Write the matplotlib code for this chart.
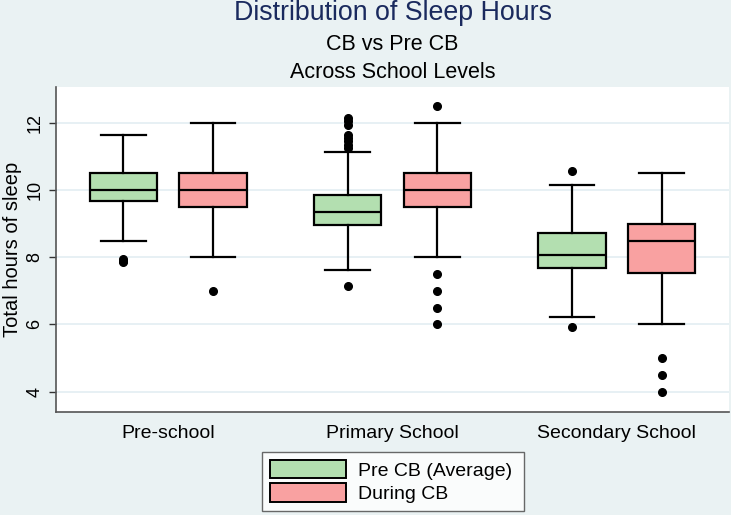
import matplotlib
matplotlib.use("Agg")
import matplotlib.pyplot as plt
from matplotlib.patches import Patch

plt.rcParams['font.family'] = ['Liberation Sans', 'DejaVu Sans']

categories = ["Pre-school", "Primary School", "Secondary School"]
series_names = ["Pre CB (Average)", "During CB"]

# five-number summaries: [lower whisker, Q1, median, Q3, upper whisker]
pre_stats = [
    [8.48, 9.66, 10.0, 10.5, 11.64],
    [7.63, 8.95, 9.34, 9.85, 11.13],
    [6.22, 7.68, 8.07, 8.72, 10.15],
]
during_stats = [
    [8.0, 9.5, 10.0, 10.5, 12.0],
    [8.0, 9.5, 10.0, 10.5, 12.0],
    [6.0, 7.52, 8.49, 8.99, 10.5],
]
pre_outliers = [
    [7.85, 7.9, 7.95],
    [7.14, 11.25, 11.35, 11.45, 11.55, 11.65, 11.95, 12.05, 12.15],
    [5.92, 10.57],
]
during_outliers = [
    [7.0],
    [6.0, 6.5, 7.0, 7.5, 12.5],
    [4.0, 4.5, 5.0],
]

colors = ["#B3DFB0", "#F9A1A1"]
bg = "#EAF2F3"

fig = plt.figure(figsize=(7.31, 5.15), dpi=100, facecolor=bg)
ax = fig.add_axes([56/731, 1-412/515, (729-56)/731, (412-87)/515])
ax.set_facecolor("white")

def mk(stats, outs):
    res = []
    for s, o in zip(stats, outs):
        res.append(dict(whislo=s[0], q1=s[1], med=s[2], q3=s[3], whishi=s[4], fliers=o))
    return res

offset = 0.2
width = 0.3
for k, (stats, outs) in enumerate([(pre_stats, pre_outliers), (during_stats, during_outliers)]):
    pos = [i + (-offset if k == 0 else offset) for i in range(len(categories))]
    ax.bxp(mk(stats, outs), positions=pos, widths=width, capwidths=0.2, patch_artist=True,
           boxprops=dict(facecolor=colors[k], edgecolor="black", linewidth=1.6),
           medianprops=dict(color="black", linewidth=1.6),
           whiskerprops=dict(color="black", linewidth=1.6),
           capprops=dict(color="black", linewidth=1.6),
           flierprops=dict(marker="o", markerfacecolor="black", markeredgecolor="black", markersize=5.5),
           manage_ticks=False, zorder=3)

ax.set_xlim(-0.5, 2.5)
ax.set_ylim(3.39, 13.07)
ax.set_yticks([4, 6, 8, 10, 12])
ax.set_yticklabels(["4", "6", "8", "10", "12"], rotation=90, va="center", fontsize=13)
ax.set_xticks(range(len(categories)))
ax.set_xticklabels(categories, fontsize=14)
ax.tick_params(axis="x", length=0, pad=9)
ax.tick_params(axis="y", length=5, width=1, pad=4, color="#333333")
ax.grid(axis="y", color="#E3EEF2", linewidth=1.2, zorder=0)
ax.set_axisbelow(True)
for sp in ["top", "right"]:
    ax.spines[sp].set_visible(False)
for sp in ["left", "bottom"]:
    ax.spines[sp].set_color("#555555")
    ax.spines[sp].set_linewidth(1.2)
ax.set_ylabel("Total hours of sleep", fontsize=14.5, labelpad=3)

cx = (56 + 729) / 2 / 731
fig.text(cx, 1-13/515, "Distribution of Sleep Hours", ha="center", va="center",
         fontsize=19.3, color="#1A2A5E")
fig.text(cx, 1-44/515, "CB vs Pre CB", ha="center", va="center", fontsize=15.5)
fig.text(cx, 1-72/515, "Across School Levels", ha="center", va="center", fontsize=15.5)

handles = [Patch(facecolor=colors[0], edgecolor="black", linewidth=1.4),
           Patch(facecolor=colors[1], edgecolor="black", linewidth=1.4)]
leg = fig.legend(handles, series_names, loc="center",
                 bbox_to_anchor=(262/731, 1-512/515, (524-262)/731, (512-451)/515),
                 fontsize=14, handlelength=3.9, handleheight=1.1, handletextpad=0.65,
                 labelspacing=0.2, borderpad=0.4, frameon=True, fancybox=False,
                 mode="expand", borderaxespad=0)
leg.get_frame().set_edgecolor("#444444")
leg.get_frame().set_linewidth(1.0)

fig.savefig("out.png", dpi=100, facecolor=bg)
